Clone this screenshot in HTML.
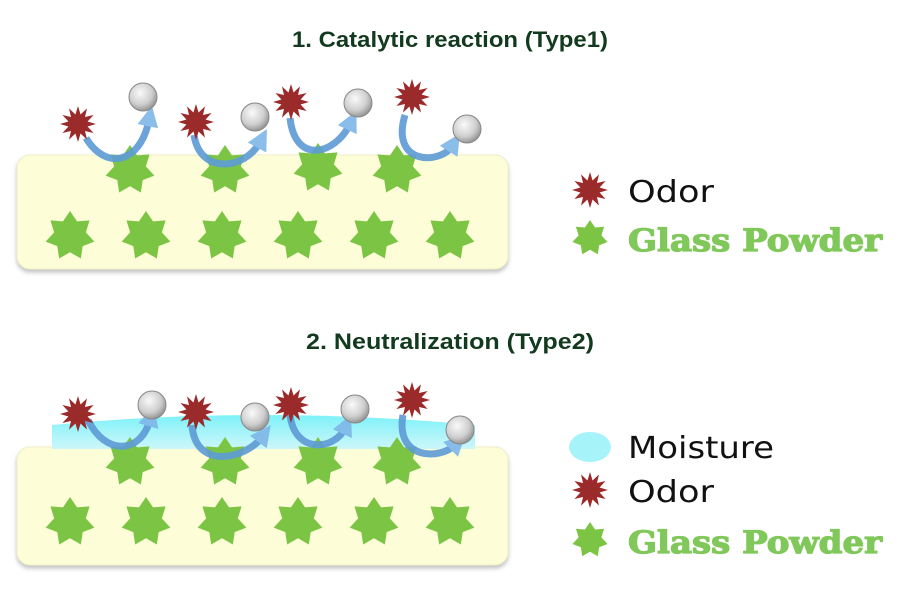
<!DOCTYPE html>
<html><head><style>html,body{margin:0;padding:0;background:#fff}svg{display:block}</style></head>
<body>
<svg width="900" height="602" viewBox="0 0 900 602" xmlns="http://www.w3.org/2000/svg">
<defs>
<polygon id="gs" fill="#7cc544" points="0,-1 0.282,-0.586 0.782,-0.623 0.634,-0.145 0.975,0.223 0.508,0.405 0.434,0.901 0,0.65 -0.434,0.901 -0.508,0.405 -0.975,0.223 -0.634,-0.145 -0.782,-0.623 -0.282,-0.586"/>
<polygon id="od" fill="#9b2a2a" points="1,0 .531,.142 .866,.5 .389,.389 .5,.866 .142,.531 0,1 -.142,.531 -.5,.866 -.389,.389 -.866,.5 -.531,.142 -1,0 -.531,-.142 -.866,-.5 -.389,-.389 -.5,-.866 -.142,-.531 0,-1 .142,-.531 .5,-.866 .389,-.389 .866,-.5 .531,-.142"/>
<radialGradient id="bg" cx="0.4" cy="0.35" r="0.7"><stop offset="0" stop-color="#fafafa"/><stop offset="0.6" stop-color="#cfcfcf"/><stop offset="1" stop-color="#8a8a8a"/></radialGradient>
<g id="ball"><circle r="14" fill="url(#bg)" stroke="#888" stroke-width="1"/></g>
<marker id="ah" viewBox="0 0 10 10" refX="3" refY="5" markerWidth="3" markerHeight="3" orient="auto"><path d="M0,0 L10,5 L0,10z" fill="#7fb6e8"/></marker>
<linearGradient id="mo" x1="0" y1="0" x2="0" y2="1"><stop offset="0" stop-color="#6ff0f8"/><stop offset="1" stop-color="#c8f6fa"/></linearGradient>
<filter id="sh" x="-5%" y="-5%" width="110%" height="120%"><feDropShadow dx="0" dy="3" stdDeviation="2" flood-color="#999" flood-opacity="0.6"/></filter>
</defs>

<text x="450" y="47" text-anchor="middle" font-family="Liberation Sans, sans-serif" font-weight="bold" font-size="22" fill="#123a1e" textLength="316" lengthAdjust="spacingAndGlyphs">1. Catalytic reaction (Type1)</text>
<text x="450" y="349" text-anchor="middle" font-family="Liberation Sans, sans-serif" font-weight="bold" font-size="22" fill="#123a1e" textLength="288" lengthAdjust="spacingAndGlyphs">2. Neutralization (Type2)</text>

<!-- Panel 1 -->
<rect x="17" y="155" width="491" height="114" rx="13" fill="#fdfdd8" stroke="#eeeec8" filter="url(#sh)"/>
<g>
<use href="#gs" transform="translate(130,170) scale(25)"/>
<use href="#gs" transform="translate(225,170) scale(25)"/>
<use href="#gs" transform="translate(318,168) scale(25)"/>
<use href="#gs" transform="translate(397,170) scale(25)"/>
<use href="#gs" transform="translate(70,236) scale(25)"/>
<use href="#gs" transform="translate(146,236) scale(25)"/>
<use href="#gs" transform="translate(222,236) scale(25)"/>
<use href="#gs" transform="translate(298,236) scale(25)"/>
<use href="#gs" transform="translate(374,236) scale(25)"/>
<use href="#gs" transform="translate(450,236) scale(25)"/>
</g>
<g fill="none" stroke="#5d9bd6" stroke-width="7" marker-end="url(#ah)" opacity="0.9">
<path d="M86,138 C105,170 140,165 149,120"/>
<path d="M194,135 C200,175 245,170 260,142"/>
<path d="M290,118 C295,165 335,155 350,124"/>
<path d="M405,115 C390,165 440,165 452,146"/>
</g>
<use href="#od" transform="translate(78,124) scale(18)"/>
<use href="#od" transform="translate(196,122) scale(18)"/>
<use href="#od" transform="translate(291,102) scale(18)"/>
<use href="#od" transform="translate(412,97) scale(18)"/>
<use href="#ball" transform="translate(143,97)"/>
<use href="#ball" transform="translate(255,117)"/>
<use href="#ball" transform="translate(358,103)"/>
<use href="#ball" transform="translate(467,129)"/>

<!-- Legend 1 -->
<use href="#od" transform="translate(590,190) scale(18)"/>
<text x="628" y="202" font-family="DejaVu Sans, sans-serif" font-size="30" fill="#111" textLength="86" lengthAdjust="spacingAndGlyphs">Odor</text>
<use href="#gs" transform="translate(590,238) scale(18)"/>
<text x="628" y="251" font-family="DejaVu Serif, serif" font-weight="bold" font-size="31" fill="#80c85a" stroke="#80c85a" stroke-width="1.2" textLength="254" lengthAdjust="spacingAndGlyphs">Glass Powder</text>

<!-- Panel 2 -->
<rect x="17" y="447" width="491" height="118" rx="13" fill="#fdfdd8" stroke="#eeeec8" filter="url(#sh)"/>
<path d="M52,425 Q260,405 475,425 L475,449 L52,449 Z" fill="url(#mo)" opacity="0.9"/>
<g>
<use href="#gs" transform="translate(130,462) scale(25)"/>
<use href="#gs" transform="translate(225,462) scale(25)"/>
<use href="#gs" transform="translate(318,462) scale(25)"/>
<use href="#gs" transform="translate(397,462) scale(25)"/>
<use href="#gs" transform="translate(70,522) scale(25)"/>
<use href="#gs" transform="translate(146,522) scale(25)"/>
<use href="#gs" transform="translate(222,522) scale(25)"/>
<use href="#gs" transform="translate(298,522) scale(25)"/>
<use href="#gs" transform="translate(374,522) scale(25)"/>
<use href="#gs" transform="translate(450,522) scale(25)"/>
</g>
<g fill="none" stroke="#5d9bd6" stroke-width="7" marker-end="url(#ah)" opacity="0.9">
<path d="M88,420 C105,455 140,455 150,420"/>
<path d="M192,425 C195,470 245,460 262,437"/>
<path d="M290,415 C295,455 335,450 345,428"/>
<path d="M403,415 C395,460 440,460 455,445"/>
</g>
<use href="#od" transform="translate(78,414) scale(18)"/>
<use href="#od" transform="translate(196,412) scale(18)"/>
<use href="#od" transform="translate(291,405) scale(18)"/>
<use href="#od" transform="translate(412,400) scale(18)"/>
<use href="#ball" transform="translate(152,405)"/>
<use href="#ball" transform="translate(255,417)"/>
<use href="#ball" transform="translate(355,409)"/>
<use href="#ball" transform="translate(460,430)"/>

<!-- Legend 2 -->
<ellipse cx="590" cy="447" rx="21" ry="15" fill="#a6f3fa"/>
<text x="628" y="458" font-family="DejaVu Sans, sans-serif" font-size="30" fill="#111" textLength="146" lengthAdjust="spacingAndGlyphs">Moisture</text>
<use href="#od" transform="translate(590,490) scale(18)"/>
<text x="628" y="502" font-family="DejaVu Sans, sans-serif" font-size="30" fill="#111" textLength="86" lengthAdjust="spacingAndGlyphs">Odor</text>
<use href="#gs" transform="translate(590,540) scale(18)"/>
<text x="628" y="553" font-family="DejaVu Serif, serif" font-weight="bold" font-size="31" fill="#80c85a" stroke="#80c85a" stroke-width="1.2" textLength="254" lengthAdjust="spacingAndGlyphs">Glass Powder</text>
</svg>
</body></html>
